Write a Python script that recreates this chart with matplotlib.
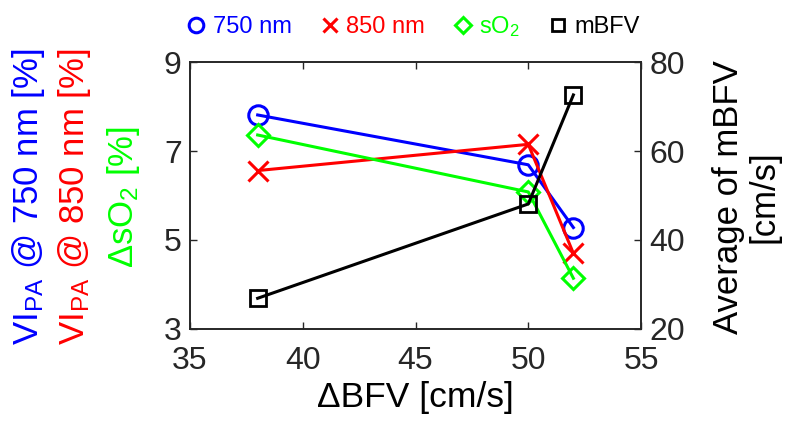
import matplotlib
matplotlib.use("Agg")
import matplotlib.pyplot as plt

plt.rcParams['font.family'] = ['Liberation Sans', 'DejaVu Sans']
plt.rcParams['mathtext.default'] = 'regular'

# data
dbfv = [38, 50, 52]
vi_750 = [7.81, 6.69, 5.28]
vi_850 = [6.56, 7.15, 4.70]
dso2 = [7.36, 6.08, 4.14]
mbfv = [26.9, 48.1, 72.6]

left_ticks = [3, 5, 7, 9]
right_ticks = [20, 40, 60, 80]
x_ticks = [35, 40, 45, 50, 55]

blue = (0, 0, 1)
red = (1, 0, 0)
green = (0, 1, 0)
grey = (0.15, 0.15, 0.15)

fig = plt.figure(figsize=(7.97, 4.42), dpi=100)
ax = fig.add_axes([0.2384, 0.2557, 0.5659, 0.604])

l1, = ax.plot(dbfv, vi_750, '-o', color=blue, lw=2.2, ms=14, mfc='none', mew=2.2, label='750 nm')
l2, = ax.plot(dbfv, vi_850, '-x', color=red, lw=2.2, ms=14, mew=2.2, label='850 nm')
l3, = ax.plot(dbfv, dso2, '-D', color=green, lw=2.2, ms=11, mfc='none', mew=2.2, label='sO$_2$')
ax.set_xlim(35, 55)
ax.set_ylim(3, 9)
ax.set_xticks(x_ticks)
ax.set_yticks(left_ticks)

ax2 = ax.twinx()
l4, = ax2.plot(dbfv, mbfv, '-s', color='k', lw=2.2, ms=11, mfc='none', mew=2.0, label='mBFV')
ax2.set_ylim(20, 80)
ax2.set_yticks(right_ticks)

for a in (ax, ax2):
    a.tick_params(direction='in', length=5, width=1, labelsize=23, colors=grey, pad=6)
    for s in a.spines.values():
        s.set_color(grey)
        s.set_linewidth(1.2)
ax.tick_params(top=True, labelcolor=grey)
ax.tick_params(axis='x', pad=12)

ax.set_xlabel('ΔBFV [cm/s]', fontsize=25.5, color='k', labelpad=4)

# stacked coloured left labels
fig.text(29 / 797, 0.555, 'VI$_{PA}$ @ 750 nm [%]', rotation=90, ha='center', va='center',
         color=blue, fontsize=25)
fig.text(75 / 797, 0.555, 'VI$_{PA}$ @ 850 nm [%]', rotation=90, ha='center', va='center',
         color=red, fontsize=25)
fig.text(123 / 797, 0.555, 'ΔsO$_2$ [%]', rotation=90, ha='center', va='center',
         color=green, fontsize=25)

fig.text(746 / 797, 0.555, 'Average of mBFV\n[cm/s]', rotation=90, ha='center', va='center',
         color='k', fontsize=25, linespacing=1.1)

leg = fig.legend(handles=[l1, l2, l3, l4], loc='center', bbox_to_anchor=(0.52, 0.94), ncol=4,
                 frameon=False, fontsize=17, labelcolor='linecolor', markerscale=0.75,
                 handlelength=0.6, handletextpad=0.4, columnspacing=1.3)
for h in leg.legend_handles:
    h.set_linestyle('none')

fig.savefig('out.png', dpi=100)
